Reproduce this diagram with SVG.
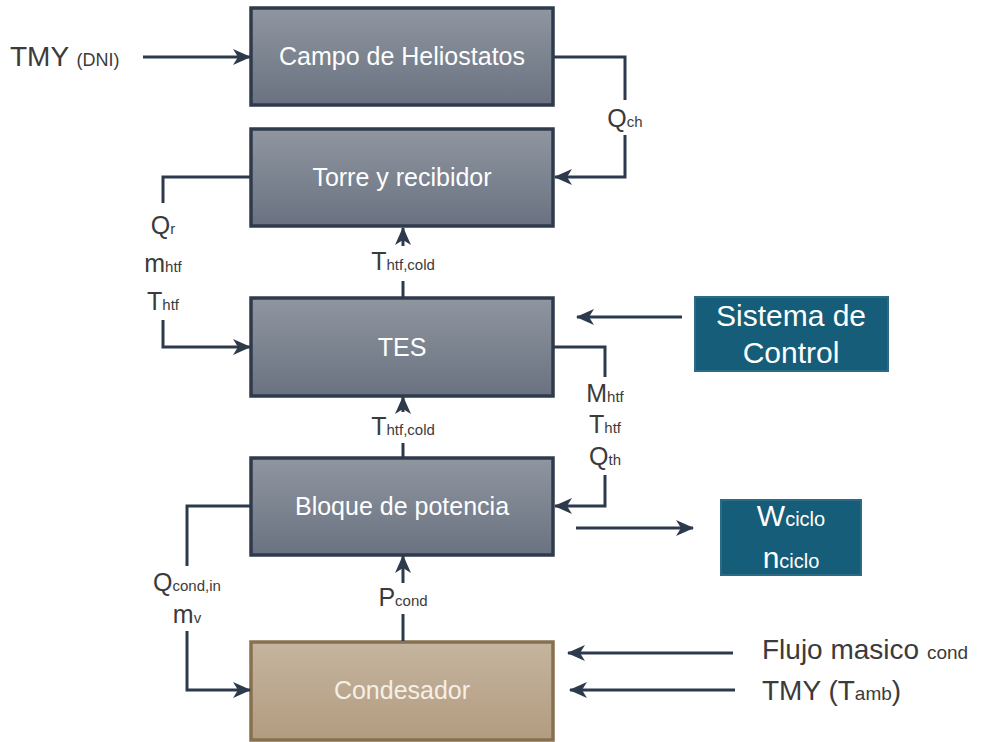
<svg xmlns="http://www.w3.org/2000/svg" width="985" height="742" viewBox="0 0 985 742">
<defs>
<linearGradient id="gGray" x1="0" y1="0" x2="0" y2="1">
<stop offset="0" stop-color="#8f96a0"/>
<stop offset="1" stop-color="#6a7281"/>
</linearGradient>
<linearGradient id="gTan" x1="0" y1="0" x2="0" y2="1">
<stop offset="0" stop-color="#c5b49f"/>
<stop offset="1" stop-color="#b29c80"/>
</linearGradient>
<marker id="ah" viewBox="0 0 18 16" refX="17" refY="8" markerWidth="18" markerHeight="16" markerUnits="userSpaceOnUse" orient="auto">
<path d="M0,0 L18,8 L0,16 L5,8 z" fill="#2d3a4c"/>
</marker>
<style>
.box{fill:url(#gGray);stroke:#2f3b4c;stroke-width:3.5}
.tan{fill:url(#gTan);stroke:#86704f;stroke-width:3.5}
.teal{fill:#155d78;stroke:#2b6c84;stroke-width:2}
.bt{font-family:"Liberation Sans",Arial,sans-serif;font-size:25px;fill:#ffffff;text-anchor:middle}
.tt{font-family:"Liberation Sans",Arial,sans-serif;font-size:30px;fill:#ffffff;text-anchor:middle}
.tan-t{font-family:"Liberation Sans",Arial,sans-serif;font-size:25px;fill:#f6efe6;text-anchor:middle}
.lb{font-family:"Liberation Sans",Arial,sans-serif;font-size:25px;fill:#3b3b3b;text-anchor:middle}
.lbl{font-family:"Liberation Sans",Arial,sans-serif;font-size:28px;fill:#3b3b3b}
.s{font-size:15px}
.c{fill:none;stroke:#2d3a4c;stroke-width:3}
</style>
</defs>
<g id="campo"><rect class="box" x="251" y="8" width="302" height="97"/><text class="bt" x="402" y="65">Campo de Heliostatos</text></g>
<g id="torre"><rect class="box" x="251" y="129" width="302" height="97"/><text class="bt" x="402" y="186">Torre y recibidor</text></g>
<g id="tes"><rect class="box" x="251" y="298" width="302" height="98"/><text class="bt" x="402" y="356">TES</text></g>
<g id="bloque"><rect class="box" x="251" y="458" width="302" height="97"/><text class="bt" x="402" y="515">Bloque de potencia</text></g>
<g id="condesador"><rect class="tan" x="251" y="642" width="302" height="98"/><text class="tan-t" x="402" y="699">Condesador</text></g>
<g id="control"><rect class="teal" x="695" y="297" width="193" height="74"/><text class="tt" x="791" y="326">Sistema de</text><text class="tt" x="791" y="363">Control</text></g>
<g id="ciclo"><rect class="teal" x="721" y="500" width="140" height="75"/><text class="tt" x="791" y="526">W<tspan font-size="20">ciclo</tspan></text><text class="tt" x="791" y="568">n<tspan font-size="20">ciclo</tspan></text></g>
<g id="connectors">
<path class="c" d="M143,57 H250" marker-end="url(#ah)"/>
<path class="c" d="M553,57 H625 V100"/>
<path class="c" d="M625,135 V177 H555" marker-end="url(#ah)"/>
<path class="c" d="M251,177 H163 V203"/>
<path class="c" d="M163,320 V347 H250" marker-end="url(#ah)"/>
<path class="c" d="M403,297 V281"/>
<path class="c" d="M403,246 V228" marker-end="url(#ah)"/>
<path class="c" d="M403,457 V443"/>
<path class="c" d="M403,412 V397" marker-end="url(#ah)"/>
<path class="c" d="M553,347 H605 V377"/>
<path class="c" d="M605,475 V506 H555" marker-end="url(#ah)"/>
<path class="c" d="M682,317 H577" marker-end="url(#ah)"/>
<path class="c" d="M576,528 H693" marker-end="url(#ah)"/>
<path class="c" d="M251,506 H187 V566"/>
<path class="c" d="M187,631 V690 H250" marker-end="url(#ah)"/>
<path class="c" d="M403,641 V614"/>
<path class="c" d="M403,583 V556" marker-end="url(#ah)"/>
<path class="c" d="M733,653 H568" marker-end="url(#ah)"/>
<path class="c" d="M735,690 H570" marker-end="url(#ah)"/>
</g>
<g id="labels">
<text class="lbl" x="10" y="66">TMY <tspan font-size="18">(DNI)</tspan></text>
<text class="lb" x="625" y="127">Q<tspan class="s">ch</tspan></text>
<text class="lb" x="163" y="234">Q<tspan class="s">r</tspan></text>
<text class="lb" x="163" y="272">m<tspan class="s">htf</tspan></text>
<text class="lb" x="163" y="310">T<tspan class="s">htf</tspan></text>
<text class="lb" x="403" y="270">T<tspan class="s">htf,cold</tspan></text>
<text class="lb" x="403" y="435">T<tspan class="s">htf,cold</tspan></text>
<text class="lb" x="605" y="402">M<tspan class="s">htf</tspan></text>
<text class="lb" x="605" y="433">T<tspan class="s">htf</tspan></text>
<text class="lb" x="605" y="465">Q<tspan class="s">th</tspan></text>
<text class="lb" x="187" y="591">Q<tspan class="s">cond,in</tspan></text>
<text class="lb" x="187" y="623">m<tspan class="s">v</tspan></text>
<text class="lb" x="403" y="606">P<tspan class="s">cond</tspan></text>
<text class="lbl" x="762" y="659">Flujo masico <tspan font-size="19">cond</tspan></text>
<text class="lbl" x="762" y="700">TMY (T<tspan font-size="19">amb</tspan>)</text>
</g>
</svg>
